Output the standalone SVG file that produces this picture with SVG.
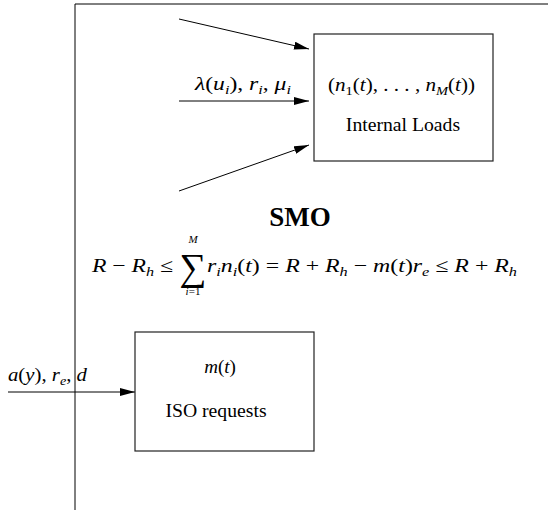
<svg xmlns="http://www.w3.org/2000/svg" width="548" height="510" viewBox="0 0 548 510">
<style>
.ln{stroke:#000;stroke-width:1;fill:none}
.box{stroke:#222;stroke-width:1.2;fill:#fff}
text{font-family:"Liberation Serif","Times New Roman","DejaVu Serif",serif;fill:#000}
.m{font-style:italic;font-size:19px}
.r{font-style:normal}
.s{font-size:13px}
.t{font-size:19.7px}
.b{font-size:27px;font-weight:bold}
</style>
<defs>
<marker id="ah" markerUnits="userSpaceOnUse" markerWidth="16" markerHeight="8" refX="15" refY="4" orient="auto">
<path d="M0,0 L15,4 L0,8 Z" fill="#000"/>
</marker>
</defs>
<g id="frame">
<line class="ln" x1="75" y1="4" x2="548" y2="4"/>
<line class="ln" x1="75" y1="4" x2="75" y2="510"/>
</g>
<g id="connectors">
<line class="ln" x1="179" y1="19" x2="309" y2="49" marker-end="url(#ah)"/>
<line class="ln" x1="179" y1="101" x2="309" y2="101" marker-end="url(#ah)"/>
<line class="ln" x1="179" y1="191" x2="309" y2="145" marker-end="url(#ah)"/>
<line class="ln" x1="8" y1="392" x2="135" y2="392" marker-end="url(#ah)"/>
<text class="m" x="195" y="90" textLength="96" lengthAdjust="spacingAndGlyphs">λ<tspan class="r">(</tspan>u<tspan class="s" dy="4">i</tspan><tspan class="r" dy="-4">), </tspan>r<tspan class="s" dy="4">i</tspan><tspan class="r" dy="-4">, </tspan>μ<tspan class="s" dy="4">i</tspan></text>
<text class="m" x="8" y="381" textLength="79" lengthAdjust="spacingAndGlyphs">a<tspan class="r">(</tspan>y<tspan class="r">), </tspan>r<tspan class="s" dy="4">e</tspan><tspan class="r" dy="-4">, </tspan>d</text>
</g>
<g id="internal-loads">
<rect class="box" x="314" y="34" width="179" height="127"/>
<text class="m" x="328" y="91" textLength="147" lengthAdjust="spacingAndGlyphs"><tspan class="r">(</tspan>n<tspan class="s r" dy="4">1</tspan><tspan class="r" dy="-4">(</tspan>t<tspan class="r">), . . . , </tspan>n<tspan class="s" dy="4">M</tspan><tspan class="r" dy="-4">(</tspan>t<tspan class="r">))</tspan></text>
<text class="t" x="403" y="131" text-anchor="middle">Internal Loads</text>
</g>
<g id="smo">
<text class="b" x="300" y="226" text-anchor="middle">SMO</text>
<text class="m" x="92" y="272" textLength="81" lengthAdjust="spacingAndGlyphs">R<tspan class="r"> − </tspan>R<tspan class="s" dy="4">h</tspan><tspan class="r" dy="-4"> ≤</tspan></text>
<text class="r" x="193" y="280" text-anchor="middle" style="font-size:38px">∑</text>
<text class="m" x="193" y="243" text-anchor="middle" style="font-size:11px">M</text>
<text class="m" x="193" y="295" text-anchor="middle" style="font-size:11px">i<tspan class="r">=1</tspan></text>
<text class="m" x="207" y="272" textLength="310" lengthAdjust="spacingAndGlyphs">r<tspan class="s" dy="4">i</tspan><tspan dy="-4">n</tspan><tspan class="s" dy="4">i</tspan><tspan class="r" dy="-4">(</tspan>t<tspan class="r">) = </tspan>R<tspan class="r"> + </tspan>R<tspan class="s" dy="4">h</tspan><tspan class="r" dy="-4"> − </tspan>m<tspan class="r">(</tspan>t<tspan class="r">)</tspan>r<tspan class="s" dy="4">e</tspan><tspan class="r" dy="-4"> ≤ </tspan>R<tspan class="r"> + </tspan>R<tspan class="s" dy="4">h</tspan></text>
</g>
<g id="iso-requests">
<rect class="box" x="135" y="332" width="179" height="119"/>
<text class="m" x="220" y="373" text-anchor="middle"><tspan>m</tspan><tspan class="r">(</tspan>t<tspan class="r">)</tspan></text>
<text class="t" x="216" y="417" text-anchor="middle">ISO requests</text>
</g>
</svg>
